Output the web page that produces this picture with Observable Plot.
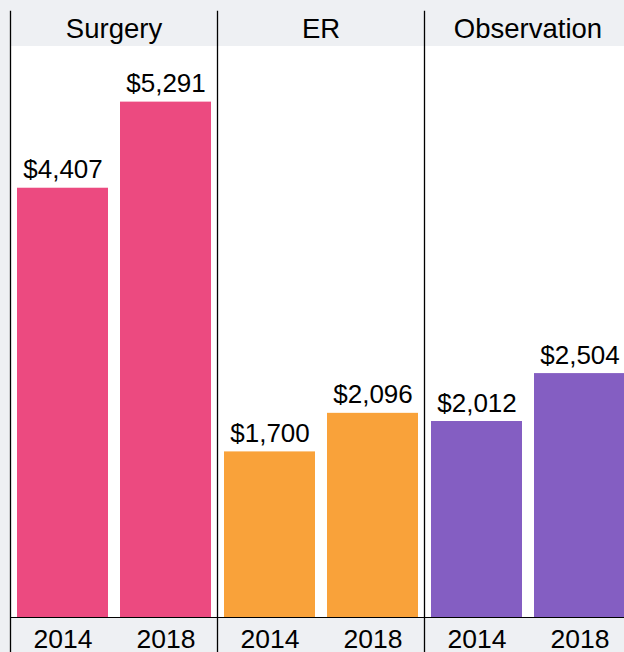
<!DOCTYPE html>
<html>
<head>
<meta charset="utf-8">
<script src="https://cdn.jsdelivr.net/npm/d3@7"></script>
<script src="https://cdn.jsdelivr.net/npm/@observablehq/plot@0.6"></script>
<style>
  html, body { margin: 0; padding: 0; background: #EEF0F3; }
  #chart { width: 624px; height: 652px; overflow: hidden; }
</style>
</head>
<body>
<div id="chart"></div>
<script>
const categories = ["Surgery", "ER", "Observation"];
const years = ["2014", "2018"];
const surgeryValues = [4407, 5291];
const erValues = [1700, 2096];
const observationValues = [2012, 2504];
const categoryColors = ["#EC4A80", "#F9A23A", "#845EC2"];
const yMax = 5862;

const seriesByCategory = [surgeryValues, erValues, observationValues];
const data = [];
categories.forEach((c, i) => {
  years.forEach((yr, j) => {
    data.push({category: c, year: yr, value: seriesByCategory[i][j]});
  });
});
const fmt = d3.format(",");
const font = "'Liberation Sans', Arial, Helvetica, sans-serif";

const chart = Plot.plot({
  width: 624,
  height: 652,
  marginTop: 11,
  marginBottom: 0,
  marginLeft: 10,
  marginRight: 0,
  style: {background: "#EEF0F3", fontFamily: font, color: "black", overflow: "hidden"},
  fx: {domain: categories, range: [10, 631], padding: 0, axis: null},
  x: {domain: years, paddingInner: 0.117, paddingOuter: 0.063, axis: null},
  y: {domain: [0, yMax], range: [617, 46], axis: null},
  color: {domain: categories, range: categoryColors},
  marks: [
    Plot.rect([0], {y1: 0, y2: yMax, fill: "white"}),
    Plot.barY(data, {fx: "category", x: "year", y: "value", fill: "category"}),
    Plot.text(data, {
      fx: "category", x: "year", y: "value",
      text: d => "$" + fmt(d.value),
      lineAnchor: "bottom", dy: -10, fontSize: 26, fill: "black"
    }),
    Plot.ruleY([0], {stroke: "black", strokeWidth: 1.2}),
    Plot.frame({anchor: "left", stroke: "black", strokeWidth: 1.3}),
    Plot.text(categories, {
      fx: d => d, text: d => d, frameAnchor: "top",
      lineAnchor: "bottom", dy: 26, fontSize: 27.5, fill: "black"
    }),
    Plot.text(data, {
      fx: "category", x: "year", text: "year", frameAnchor: "bottom",
      lineAnchor: "bottom", dy: -5, fontSize: 26.5, fill: "black"
    })
  ]
});
document.getElementById("chart").appendChild(chart);
</script>
</body>
</html>
